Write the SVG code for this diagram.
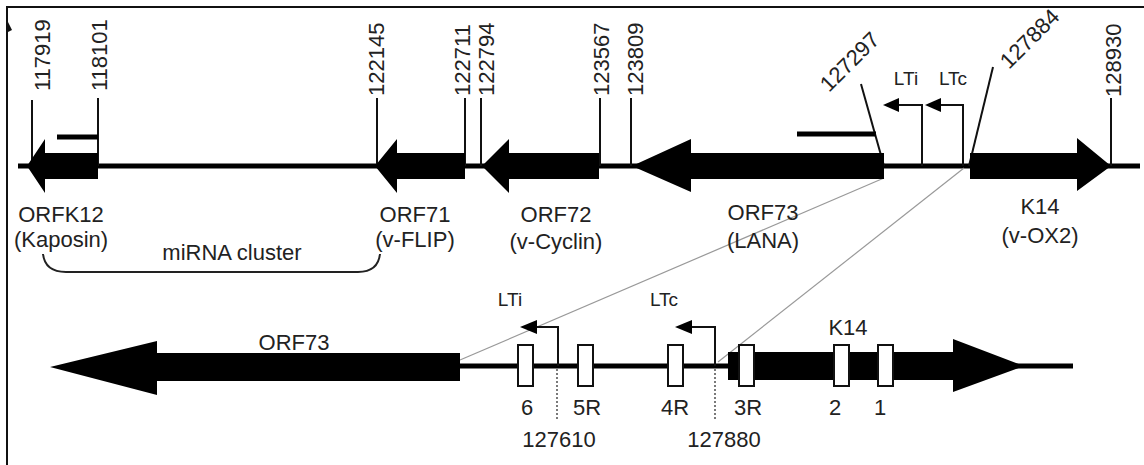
<svg xmlns="http://www.w3.org/2000/svg" width="1144" height="465" viewBox="0 0 1144 465">
<style>
text{font-family:"Liberation Sans",Arial,sans-serif;fill:#222}
.pos{font-size:22px}
.lab{font-size:22px;text-anchor:middle}
.num{font-size:22px;text-anchor:middle}
.sm{font-size:19px;text-anchor:middle}
.tick{stroke:#111;stroke-width:2;fill:none}
.gene{fill:#000}
.exon{fill:#fff;stroke:#111;stroke-width:2}
.guide{stroke:#999;stroke-width:1.2;fill:none}
.axis{stroke:#000;stroke-width:5}
</style>
<rect x="0" y="0" width="1144" height="465" fill="#fff"/>
<rect x="7" y="7" width="1150" height="480" fill="none" stroke="#111" stroke-width="2"/>
<polygon points="8,22 12,30 8,32" fill="#111"/>

<g id="top-axis">
<line class="axis" x1="18" y1="166" x2="1140" y2="166"/>
</g>

<g id="connectors">
<line class="guide" x1="884" y1="178" x2="460" y2="360"/>
<line class="guide" x1="964" y1="168" x2="718" y2="362"/>
<path d="M43,254 Q45,272 66,272 L358,272 Q378,272 380,254" fill="none" stroke="#222" stroke-width="2"/>
</g>

<g id="ticks-top">
<line class="tick" x1="32" y1="100" x2="32" y2="166"/>
<line class="tick" x1="98" y1="98" x2="98" y2="166"/>
<line class="tick" x1="377" y1="98" x2="377" y2="166"/>
<line class="tick" x1="465" y1="98" x2="465" y2="166"/>
<line class="tick" x1="481" y1="98" x2="481" y2="166"/>
<line class="tick" x1="600" y1="98" x2="600" y2="166"/>
<line class="tick" x1="631" y1="98" x2="631" y2="166"/>
<line class="tick" x1="1111" y1="98" x2="1111" y2="166"/>
<line class="tick" x1="861" y1="84" x2="884" y2="166"/>
<line class="tick" x1="993" y1="67" x2="969" y2="166"/>
<line x1="57" y1="137" x2="98" y2="137" stroke="#000" stroke-width="5"/>
<line x1="797" y1="134" x2="876" y2="134" stroke="#000" stroke-width="5"/>
</g>

<g id="pos-labels-top">
<text class="pos" transform="translate(50,91) rotate(-90)">117919</text>
<text class="pos" transform="translate(107,91) rotate(-90)">118101</text>
<text class="pos" transform="translate(384,96) rotate(-90)">122145</text>
<text class="pos" transform="translate(470,96) rotate(-90)">122711</text>
<text class="pos" transform="translate(494,96) rotate(-90)">122794</text>
<text class="pos" transform="translate(609,96) rotate(-90)">123567</text>
<text class="pos" transform="translate(643,96) rotate(-90)">123809</text>
<text class="pos" transform="translate(1121,97) rotate(-90)">128930</text>
<text class="pos" transform="translate(829,93) rotate(-45)">127297</text>
<text class="pos" transform="translate(1009,70) rotate(-45)">127884</text>
</g>

<g id="orfk12">
<polygon class="gene" points="27,166 45,139 45,153 98,153 98,179 45,179 45,193"/>
<text class="lab" x="61" y="222">ORFK12</text>
<text class="lab" x="61" y="247">(Kaposin)</text>
</g>
<g id="mirna">
<text class="lab" x="232" y="260">miRNA cluster</text>
</g>
<g id="orf71">
<polygon class="gene" points="375,166 397,139 397,153 465,153 465,179 397,179 397,193"/>
<text class="lab" x="415" y="222">ORF71</text>
<text class="lab" x="415" y="247">(v-FLIP)</text>
</g>
<g id="orf72">
<polygon class="gene" points="482,166 509,139 509,153 599,153 599,179 509,179 509,193"/>
<text class="lab" x="556" y="222">ORF72</text>
<text class="lab" x="556" y="249">(v-Cyclin)</text>
</g>
<g id="orf73">
<polygon class="gene" points="632,166 691,139 691,153 884,153 884,179 691,179 691,192"/>
<text class="lab" x="763" y="220">ORF73</text>
<text class="lab" x="763" y="248">(LANA)</text>
</g>
<g id="k14">
<polygon class="gene" points="970,153 1077,153 1077,138 1111,166 1077,191 1077,179 970,179"/>
<text class="lab" x="1040" y="214">K14</text>
<text class="lab" x="1040" y="243">(v-OX2)</text>
</g>
<g id="lti-top">
<polyline class="tick" points="922,166 922,105 896,105"/>
<polygon points="883,105 899,98 899,112" fill="#000"/>
<text class="sm" x="906" y="85">LTi</text>
</g>
<g id="ltc-top">
<polyline class="tick" points="963,166 963,105 938,105"/>
<polygon points="925,105 941,98 941,112" fill="#000"/>
<text class="sm" x="953" y="85">LTc</text>
</g>

<g id="bottom-axis">
<line class="axis" x1="455" y1="366" x2="1073" y2="366"/>
</g>
<g id="orf73-detail">
<polygon class="gene" points="50,367 157,341 157,353 460,353 460,381 157,381 157,395"/>
<text class="lab" x="294" y="350">ORF73</text>
</g>
<g id="k14-detail">
<polygon class="gene" points="728,352 953,352 953,339 1024,366 953,392 953,380 728,380"/>
<text class="lab" x="848" y="335">K14</text>
</g>
<g id="exons">
<rect class="exon" x="518" y="345" width="15" height="41"/>
<rect class="exon" x="578" y="345" width="15" height="41"/>
<rect class="exon" x="668" y="345" width="15" height="41"/>
<rect class="exon" x="739" y="345" width="15" height="41"/>
<rect class="exon" x="834" y="345" width="15" height="41"/>
<rect class="exon" x="878" y="345" width="15" height="41"/>
<text class="num" x="527" y="415">6</text>
<text class="num" x="587" y="415">5R</text>
<text class="num" x="675" y="415">4R</text>
<text class="num" x="748" y="415">3R</text>
<text class="num" x="835" y="415">2</text>
<text class="num" x="880" y="415">1</text>
</g>
<g id="lti-bottom">
<polyline class="tick" points="558,366 558,327 534,327"/>
<polygon points="520,327 537,320 537,334" fill="#000"/>
<text class="sm" x="510" y="306">LTi</text>
<line x1="557" y1="369" x2="557" y2="421" stroke="#222" stroke-width="1.2" stroke-dasharray="2,2"/>
<text class="num" x="559" y="447">127610</text>
</g>
<g id="ltc-bottom">
<polyline class="tick" points="715,366 715,327 690,327"/>
<polygon points="675,327 692,320 692,334" fill="#000"/>
<text class="sm" x="664" y="306">LTc</text>
<line x1="715" y1="369" x2="715" y2="421" stroke="#222" stroke-width="1.2" stroke-dasharray="2,2"/>
<text class="num" x="724" y="447">127880</text>
</g>
</svg>
